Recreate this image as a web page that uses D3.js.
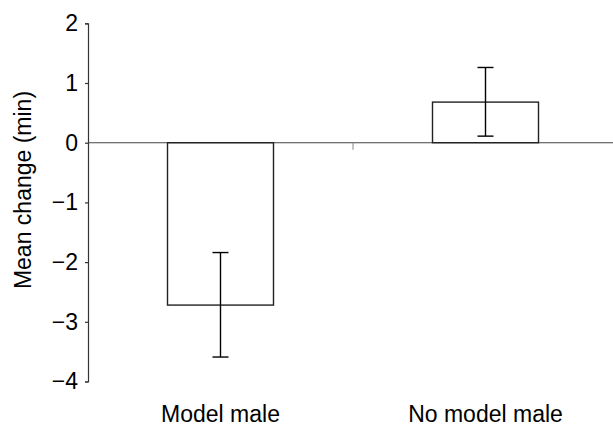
<!DOCTYPE html>
<html>
<head>
<meta charset="utf-8">
<script src="https://cdn.jsdelivr.net/npm/d3@7"></script>
<style>
  body { margin: 0; background: #fff; }
  text { font-family: "Liberation Sans", Arial, Helvetica, sans-serif; }
</style>
</head>
<body>
<div id="chart"></div>
<script>
var categories = ["Model male", "No model male"],
    means = [-2.72, 0.68],
    errUpper = [-1.84, 1.26],
    errLower = [-3.59, 0.11],
    yTicks = [-4, -3, -2, -1, 0, 1, 2];

var width = 613, height = 428,
    margin = {left: 88, top: 23.3, bottom: 46.5};

var svg = d3.select("#chart").append("svg")
    .attr("width", width)
    .attr("height", height);

var y = d3.scaleLinear()
    .domain([-4, 2])
    .range([height - margin.bottom, margin.top]);

// band runs past the right edge a little, like the original plot area
var x = d3.scaleBand()
    .domain(categories)
    .range([margin.left, 618])
    .padding(0);

var barW = x.bandwidth() * 0.4;

// y axis
var yAxis = d3.axisLeft(y)
    .tickValues(yTicks)
    .tickSize(3)
    .tickPadding(7)
    .tickFormat(d3.format("d"));

var gy = svg.append("g")
    .attr("transform", "translate(" + margin.left + ",0)")
    .call(yAxis);

gy.select(".domain").attr("stroke", "#333").attr("stroke-width", 1.2);
gy.selectAll(".tick line").attr("stroke", "#333").attr("stroke-width", 1.2);
gy.selectAll(".tick text")
    .style("font-size", "23px")
    .attr("fill", "#000");

// zero line
svg.append("line")
    .attr("x1", margin.left).attr("x2", width)
    .attr("y1", y(0)).attr("y2", y(0))
    .attr("stroke", "#444")
    .attr("stroke-width", 1.1);

// tick between the two groups
svg.append("line")
    .attr("x1", x(categories[1])).attr("x2", x(categories[1]))
    .attr("y1", y(0)).attr("y2", y(0) + 7)
    .attr("stroke", "#999")
    .attr("stroke-width", 1.2);

var cx = function(d, i) { return x(categories[i]) + x.bandwidth() / 2; };

// bars
svg.selectAll("rect.bar")
    .data(means)
    .enter().append("rect")
    .attr("class", "bar")
    .attr("x", function(d, i) { return cx(d, i) - barW / 2; })
    .attr("y", function(d) { return y(Math.max(0, d)); })
    .attr("width", barW)
    .attr("height", function(d) { return Math.abs(y(d) - y(0)); })
    .attr("fill", "none")
    .attr("stroke", "#222")
    .attr("stroke-width", 1.4);

// error bars
var err = svg.selectAll("g.err")
    .data(means)
    .enter().append("g")
    .attr("class", "err")
    .attr("stroke", "#000")
    .attr("stroke-width", 1.4);

err.append("line")
    .attr("x1", cx).attr("x2", cx)
    .attr("y1", function(d, i) { return y(errUpper[i]); })
    .attr("y2", function(d, i) { return y(errLower[i]); });

err.append("line")
    .attr("x1", function(d, i) { return cx(d, i) - 8; })
    .attr("x2", function(d, i) { return cx(d, i) + 8; })
    .attr("y1", function(d, i) { return y(errUpper[i]); })
    .attr("y2", function(d, i) { return y(errUpper[i]); });

err.append("line")
    .attr("x1", function(d, i) { return cx(d, i) - 8; })
    .attr("x2", function(d, i) { return cx(d, i) + 8; })
    .attr("y1", function(d, i) { return y(errLower[i]); })
    .attr("y2", function(d, i) { return y(errLower[i]); });

// category labels
svg.selectAll("text.cat")
    .data(categories)
    .enter().append("text")
    .attr("class", "cat")
    .attr("x", function(d) { return x(d) + x.bandwidth() / 2; })
    .attr("y", 422)
    .attr("text-anchor", "middle")
    .style("font-size", "23px")
    .text(function(d) { return d; });

// y title
svg.append("text")
    .attr("transform", "translate(31," + 190 + ") rotate(-90)")
    .attr("text-anchor", "middle")
    .style("font-size", "23px")
    .text("Mean change (min)");
</script>
</body>
</html>
